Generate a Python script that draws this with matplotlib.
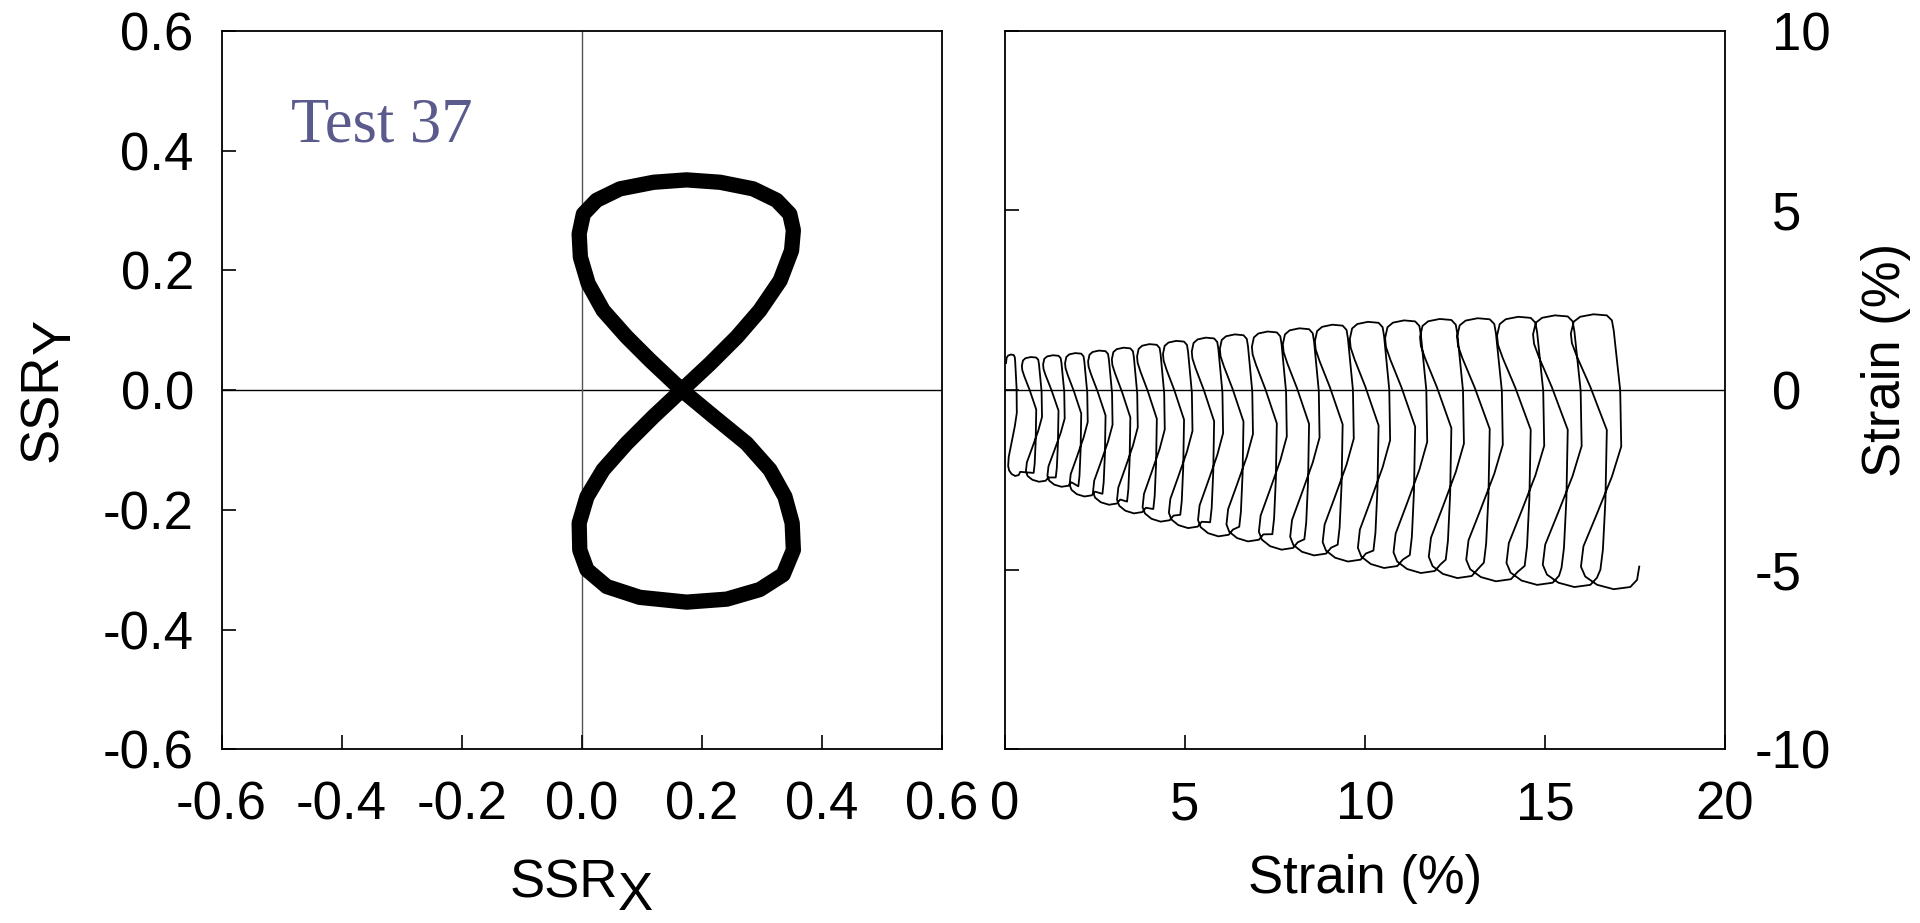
import numpy as np
import matplotlib.pyplot as plt
from matplotlib.ticker import FormatStrFormatter
from matplotlib.transforms import ScaledTranslation

plt.rcParams['font.family'] = ['Liberation Sans', 'DejaVu Sans']
plt.rcParams['axes.unicode_minus'] = False

# --- left panel: stress path (SSR_X vs SSR_Y) ---
fig8_x = [0.167, 0.214, 0.259, 0.297, 0.331, 0.350, 0.353, 0.347, 0.325, 0.286, 0.231,
          0.175, 0.120, 0.064, 0.025, 0.003, -0.004, -0.002, 0.011, 0.036, 0.075, 0.114,
          0.167, 0.120, 0.075, 0.036, 0.009, -0.004, -0.003, 0.009, 0.042, 0.097, 0.175,
          0.242, 0.297, 0.336, 0.353, 0.351, 0.339, 0.314, 0.275, 0.220, 0.167]
fig8_y = [0.000, 0.044, 0.089, 0.133, 0.183, 0.233, 0.267, 0.294, 0.317, 0.336, 0.347,
          0.351, 0.347, 0.336, 0.317, 0.294, 0.261, 0.222, 0.178, 0.133, 0.089, 0.050,
          0.000, -0.044, -0.089, -0.133, -0.178, -0.222, -0.267, -0.300, -0.328, -0.346, -0.354,
          -0.349, -0.333, -0.308, -0.267, -0.222, -0.178, -0.133, -0.089, -0.044, 0.000]
ssr_ticks = [-0.6, -0.4, -0.2, 0.0, 0.2, 0.4, 0.6]

# --- right panel: strain path, one loop per cycle ---
# loop shape read from the last cycle, normalised to its width and height
loop_u = [0.586, 0.636, 0.686, 0.714, 0.386, 0.121, 0.021, 0.0, 0.057, 0.186, 0.45, 0.714, 0.814,
          0.85, 0.914, 0.979, 1.0, 0.814, 0.521, 0.25, 0.2, 0.286, 0.521, 0.85, 1.179, 1.314]
loop_v = [0.071, 0.144, 0.324, 0.579, 0.736, 0.846, 0.895, 0.930, 0.973, 0.991, 1.0, 0.996, 0.978,
          0.942, 0.833, 0.724, 0.519, 0.409, 0.276, 0.156, 0.082, 0.046, 0.016, 0.0, 0.008, 0.034]
CAP_START = 7  # the test starts on the top of the first loop

# per-cycle left edge, width, top and bottom (strain %)
cycle_x0 = [0.03, 0.47, 1.06, 1.67, 2.31, 2.97, 3.67, 4.39, 5.19, 5.97,
            6.86, 7.72, 8.61, 9.58, 10.56, 11.53, 12.56, 13.67, 14.67, 15.72]
cycle_w = [0.30, 0.56, 0.60, 0.63, 0.68, 0.72, 0.77, 0.82, 0.87, 0.92,
           0.97, 1.02, 1.08, 1.12, 1.17, 1.22, 1.27, 1.31, 1.35, 1.40]
cycle_top = [0.99, 0.92, 0.97, 1.03, 1.10, 1.18, 1.28, 1.37, 1.46, 1.55,
             1.63, 1.72, 1.82, 1.90, 1.94, 1.98, 2.00, 2.04, 2.08, 2.11]
cycle_bot = [-2.39, -2.55, -2.69, -2.96, -3.19, -3.43, -3.66, -3.84, -4.07, -4.21,
             -4.44, -4.60, -4.77, -4.95, -5.09, -5.23, -5.32, -5.42, -5.48, -5.54]
tail_x = [17.62]
tail_y = [-4.91]

strain_xticks = [0, 5, 10, 15, 20]
strain_yticks = [-10, -5, 0, 5, 10]

strain_x, strain_y = [], []
for k in range(len(cycle_x0)):
    start = CAP_START if k == 0 else 0
    for u, v in zip(loop_u[start:], loop_v[start:]):
        strain_x.append(cycle_x0[k] + u * cycle_w[k])
        strain_y.append(cycle_bot[k] + v * (cycle_top[k] - cycle_bot[k]))
strain_x += tail_x
strain_y += tail_y

FS = 38

fig = plt.figure(figsize=(19.2, 9.23), dpi=100)
ax1 = fig.add_axes([0.1154, 0.188, 0.375, 0.7787])
ax2 = fig.add_axes([0.5234, 0.188, 0.375, 0.7787])

# left panel
ax1.axhline(0, color='black', lw=1.0, zorder=1)
ax1.axvline(0, color='#555555', lw=1.0, zorder=1)
ax1.plot(fig8_x, fig8_y, color='black', lw=11, solid_joinstyle='round',
         solid_capstyle='round', zorder=2)
ax1.set_xlim(-0.6, 0.6)
ax1.set_ylim(-0.6, 0.6)
ax1.set_xticks(ssr_ticks)
ax1.set_yticks(ssr_ticks)
ax1.xaxis.set_major_formatter(FormatStrFormatter('%.1f'))
ax1.yaxis.set_major_formatter(FormatStrFormatter('%.1f'))
ax1.tick_params(direction='in', length=10, width=1.2, labelsize=FS)
ax1.tick_params(axis='x', pad=22)
ax1.tick_params(axis='y', pad=20)
ax1.text(-0.484, 0.44, 'Test 37', family=['Liberation Serif'], fontsize=45,
         color='#5a5a8c', va='center', ha='left')

xl = ax1.set_xlabel('SSR', fontsize=FS, va='center', ha='center')
ax1.xaxis.set_label_coords(0.4756, -0.187)
ax1.annotate('X', xy=(1.0, 0.5), xycoords=xl, xytext=(0, -9), textcoords='offset points',
             fontsize=FS, ha='left', va='center')
yl = ax1.set_ylabel('SSR', fontsize=FS, va='center', ha='center')
ax1.yaxis.set_label_coords(-0.248, 0.4755)
ax1.annotate('Y', xy=(0.5, 1.0), xycoords=yl, xytext=(9, 0), textcoords='offset points',
             fontsize=FS, ha='center', va='bottom', rotation=90)

# right panel
ax2.axhline(0, color='black', lw=1.0, zorder=1)
ax2.plot(strain_x, strain_y, color='black', lw=1.3, zorder=2)
ax2.set_xlim(0, 20)
ax2.set_ylim(-10, 10)
ax2.set_xticks(strain_xticks)
ax2.set_yticks(strain_yticks)
ax2.tick_params(direction='in', length=10, width=1.2, labelsize=FS)
ax2.tick_params(axis='x', pad=22)
ax2.tick_params(axis='y', left=True, right=False, labelleft=False, labelright=True, pad=34)
ax2.set_xlabel('Strain (%)', fontsize=FS, va='center', ha='center')
ax2.xaxis.set_label_coords(0.5, -0.18)
ax2.yaxis.set_label_position('right')
ax2.set_ylabel('Strain (%)', fontsize=FS, va='center', ha='center', rotation=90)
ax2.yaxis.set_label_coords(1.224, 0.542)

# hang the minus sign of the right-hand tick labels
shift = ScaledTranslation(-0.333 * FS / 72, 0, fig.dpi_scale_trans)
for tick, val in zip(ax2.yaxis.get_major_ticks(), strain_yticks):
    if val < 0:
        tick.label2.set_transform(tick.label2.get_transform() + shift)

for ax in (ax1, ax2):
    for spine in ax.spines.values():
        spine.set_linewidth(1.3)

fig.savefig('out.png', dpi=100)
